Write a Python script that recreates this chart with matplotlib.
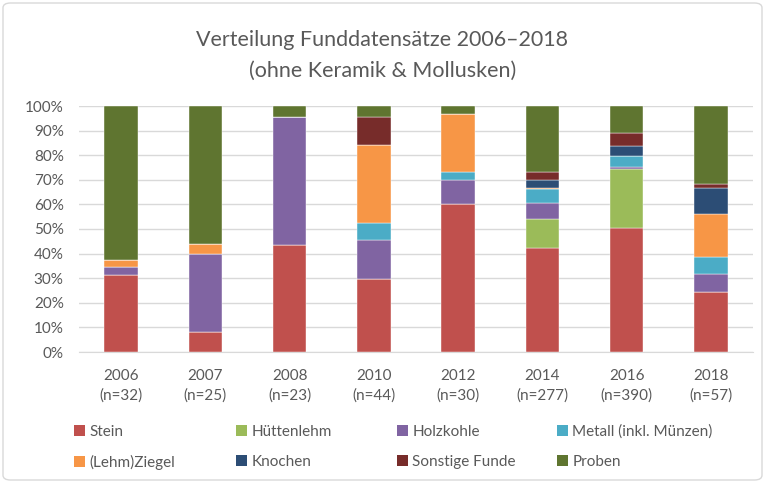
import matplotlib
matplotlib.use("Agg")
import matplotlib.pyplot as plt
import numpy as np
from matplotlib.patches import FancyBboxPatch, Patch

plt.rcParams['font.family'] = ['Lato', 'DejaVu Sans']

years = ["2006", "2007", "2008", "2010", "2012", "2014", "2016", "2018"]
n_labels = ["(n=32)", "(n=25)", "(n=23)", "(n=44)", "(n=30)", "(n=277)", "(n=390)", "(n=57)"]

series_names = ["Stein", "Hüttenlehm", "Holzkohle", "Metall (inkl. Münzen)",
                "(Lehm)Ziegel", "Knochen", "Sonstige Funde", "Proben"]
# counts per year (percentages derived)
stein      = [10, 2, 10, 13, 18, 117, 196, 14]
huettenlehm= [0, 0, 0, 0, 0, 33, 94, 0]
holzkohle  = [1, 8, 12, 7, 3, 18, 3, 4]
metall     = [0, 0, 0, 3, 1, 15, 18, 4]
ziegel     = [1, 1, 0, 14, 7, 2, 0, 10]
knochen    = [0, 0, 0, 0, 0, 9, 16, 6]
sonstige   = [0, 0, 0, 5, 0, 9, 20, 1]
proben     = [20, 14, 1, 2, 1, 74, 43, 18]

colors = ["#C0504D", "#9BBB59", "#8064A2", "#4BACC6",
          "#F79646", "#2C4D75", "#772C2A", "#5F7530"]

data = np.array([stein, huettenlehm, holzkohle, metall, ziegel, knochen, sonstige, proben], dtype=float)
pct = data / data.sum(axis=0) * 100

fig = plt.figure(figsize=(7.65, 4.83), dpi=100)
ax = fig.add_axes([79/765, 1-352/483, (753-79)/765, (352-106)/483])

x = np.arange(len(years))
bottom = np.zeros(len(years))
handles = []
for i, name in enumerate(series_names):
    ax.bar(x, pct[i], bottom=bottom, width=0.4, color=colors[i],
           edgecolor="white", linewidth=0.3, zorder=3)
    bottom += pct[i]
    handles.append(Patch(facecolor=colors[i], label=name))

ax.set_xlim(-0.5, len(years) - 0.5)
ax.set_ylim(0, 100)
ax.set_yticks(np.arange(0, 101, 10))
ax.set_yticklabels([f"{v}%" for v in range(0, 101, 10)])
ax.set_xticks(x)
ax.set_xticklabels([f"{y}\n{n}" for y, n in zip(years, n_labels)], linespacing=1.5)
ax.grid(axis="y", color="#D9D9D9", linewidth=1, zorder=0)
for s in ["left", "right", "top"]:
    ax.spines[s].set_visible(False)
ax.spines["bottom"].set_color("#D9D9D9")
ax.tick_params(axis="both", length=0, colors="#595959", labelsize=11)
ax.tick_params(axis="y", pad=11)
ax.tick_params(axis="x", pad=12)

fig.text(0.5, 1-40/483, "Verteilung Funddatensätze 2006–2018", ha="center", va="center",
         fontsize=15.5, color="#595959")
fig.text(0.5, 1-71/483, "(ohne Keramik & Mollusken)", ha="center", va="center",
         fontsize=15.5, color="#595959")

col_x = [74, 236, 397, 557]
row_y = [432, 462]
for k in range(8):
    c, r = k % 4, k // 4
    leg = fig.legend(handles=[handles[k]], loc="center left",
                     bbox_to_anchor=(col_x[c]/765, 1-row_y[r]/483),
                     frameon=False, fontsize=11, handlelength=0.7, handleheight=0.7,
                     handletextpad=0.3, borderaxespad=0, borderpad=0)
    for t in leg.get_texts():
        t.set_color("#595959")

border = FancyBboxPatch((3/765, 3/483), 759/765, 477/483,
                        boxstyle="round,pad=0,rounding_size=0.01",
                        transform=fig.transFigure, fill=False,
                        edgecolor="#D9D9D9", linewidth=1)
fig.patches.append(border)

fig.savefig("out.png", dpi=100, facecolor="white")
